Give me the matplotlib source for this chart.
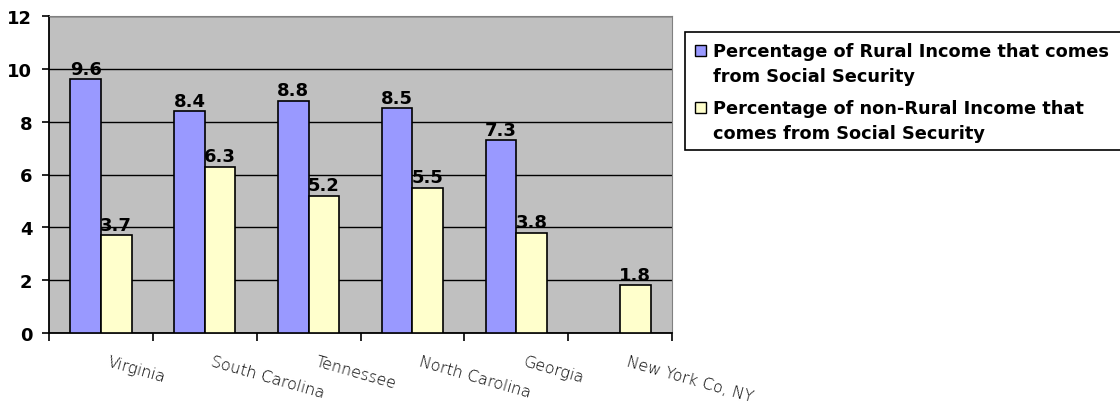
import matplotlib.pyplot as plt
from matplotlib.patches import Rectangle
import numpy as np

states = ["Virginia", "South Carolina", "Tennessee", "North Carolina", "Georgia", "New York Co, NY"]
rural = [9.6, 8.4, 8.8, 8.5, 7.3, np.nan]
non_rural = [3.7, 6.3, 5.2, 5.5, 3.8, 1.8]
series_names = ["Percentage of Rural Income that comes\nfrom Social Security",
                "Percentage of non-Rural Income that\ncomes from Social Security"]
colors = ["#9999FF", "#FFFFCC"]

W, H = 1120, 406
fig = plt.figure(figsize=(W / 100, H / 100), dpi=100)
ax = fig.add_axes([49 / W, 72 / H, 623 / W, 317 / H])
ax.set_facecolor("#C0C0C0")

bold = {"family": "DejaVu Sans", "weight": "bold", "size": 13}

x = np.arange(len(states))
w = 0.295
b1 = ax.bar(x - w / 2, rural, w, color=colors[0], edgecolor="black", linewidth=1.2, zorder=3)
b2 = ax.bar(x + w / 2, non_rural, w, color=colors[1], edgecolor="black", linewidth=1.2, zorder=3)

# value labels above bars
for bars, vals in [(b1, rural), (b2, non_rural)]:
    for r, v in zip(bars, vals):
        if np.isnan(v):
            continue
        ax.annotate(f"{v:.1f}", (r.get_x() + r.get_width() / 2, v), xytext=(0, 1),
                    textcoords="offset points", ha="center", va="bottom",
                    zorder=4, **bold)

ax.set_xlim(-0.5, len(states) - 0.5)
ax.set_ylim(0, 12)
ax.set_yticks(range(0, 13, 2))
ax.yaxis.grid(True, color="black", linewidth=1.0, zorder=1)
ax.set_axisbelow(True)
for lab in ax.get_yticklabels():
    lab.set_family(bold["family"])
    lab.set_weight(bold["weight"])
    lab.set_size(bold["size"])
ax.tick_params(axis="y", length=5, width=1.2, direction="out", pad=7)

# ticks on category boundaries, labels slanted under the centers
ax.set_xticks(np.arange(len(states) + 1) - 0.5)
ax.set_xticklabels([])
ax.tick_params(axis="x", length=6, width=1.2, direction="out")
for i, s in enumerate(states):
    ax.annotate(s, (i, 0), xytext=(6.5, -15), textcoords="offset points",
                ha="left", va="top", rotation=-16, rotation_mode="anchor",
                fontsize=11.5, color="black", family="DejaVu Sans", weight="light",
                annotation_clip=False)

ax.spines["left"].set_color("black")
ax.spines["left"].set_linewidth(1.3)
ax.spines["bottom"].set_color("black")
ax.spines["bottom"].set_linewidth(1.3)
ax.spines["top"].set_color("#808080")
ax.spines["right"].set_color("#808080")

# legend box, drawn by hand so the swatch sits on the first line
def fx(px):
    return px / W

def fy(py):
    return 1 - py / H

fig.patches.append(Rectangle((fx(685), fy(151)), fx(500), 118 / H, transform=fig.transFigure,
                             facecolor="white", edgecolor="black", linewidth=1.2))
legend_top = [46, 103]
for k, name in enumerate(series_names):
    top = legend_top[k]
    fig.patches.append(Rectangle((fx(695), fy(top + 11)), 11 / W, 11 / H,
                                 transform=fig.transFigure, facecolor=colors[k],
                                 edgecolor="black", linewidth=1.0))
    for j, line in enumerate(name.split("\n")):
        fig.text(fx(713), fy(top + 11 + 25 * j), line, ha="left", va="baseline",
                 family="DejaVu Sans", weight="bold", size=12.8)

fig.savefig("out.png", dpi=100)
